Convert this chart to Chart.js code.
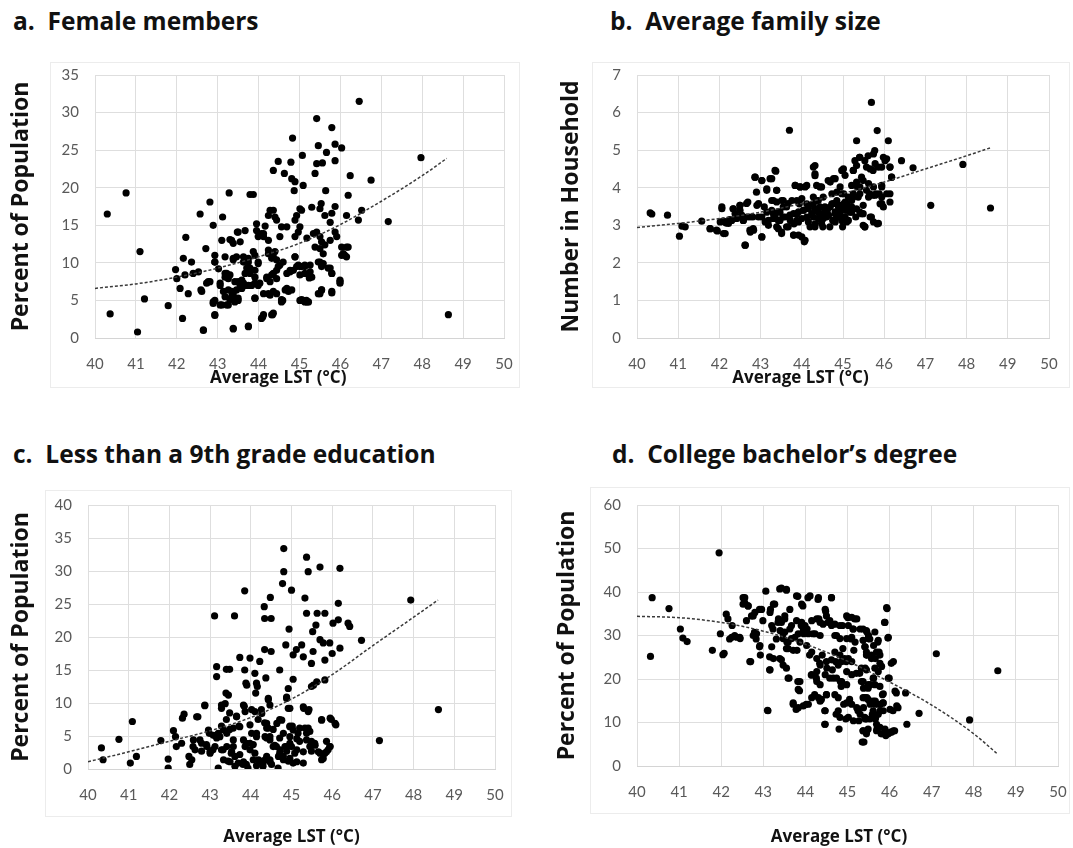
<!DOCTYPE html>
<html>
<head>
<meta charset="utf-8">
<script src="https://cdn.jsdelivr.net/npm/chart.js@4.4.1/dist/chart.umd.min.js"></script>
<style>
  body { margin: 0; background: #fff; }
  #page { position: relative; width: 1073px; height: 848px; overflow: hidden; }
  .ptitle { position: absolute; font-family: "Open Sans", sans-serif; font-weight: bold; font-size: 24.5px; color: #111; white-space: pre; line-height: 1; }
  .frame { position: absolute; border: 1px solid #ececec; }
  canvas { position: absolute; }
</style>
</head>
<body>
<div id="page">
  <div class="frame" style="left:50px;top:62px;width:468px;height:324px"></div>
  <div class="frame" style="left:592px;top:62px;width:476px;height:324px"></div>
  <div class="frame" style="left:45px;top:490px;width:465px;height:325px"></div>
  <div class="frame" style="left:590px;top:487px;width:478px;height:325px"></div>

  <div class="ptitle" style="left:13px;top:9px">a.  Female members</div>
  <div class="ptitle" style="left:610px;top:9px">b.  Average family size</div>
  <div class="ptitle" style="left:13px;top:442px">c.  Less than a 9th grade education</div>
  <div class="ptitle" style="left:612px;top:442px">d.  College bachelor’s degree</div>

  <canvas id="chartA" width="540" height="350" style="left:0;top:50px"></canvas>
  <canvas id="chartB" width="523" height="350" style="left:550px;top:50px"></canvas>
  <canvas id="chartC" width="540" height="368" style="left:0;top:480px"></canvas>
  <canvas id="chartD" width="523" height="368" style="left:550px;top:480px"></canvas>
</div>
<script>
// a. female members (% of population) vs average LST
const femaleLst = [40.30,40.76,40.37,41.04,41.10,41.21,41.79,41.97,42.14,42.22,42.16,42.36,42.08,42.28,42.00,42.20,42.40,42.53,42.57,42.81,
  42.71,42.65,42.89,43.12,43.28,42.93,42.59,42.77,42.93,42.89,43.10,43.26,43.02,43.22,43.30,43.48,43.55,43.38,43.38,43.75,
  43.79,43.87,44.83,45.42,45.79,45.46,45.87,46.03,45.66,45.07,45.87,44.48,44.79,45.42,45.56,44.36,44.63,45.38,46.24,44.81,
  44.89,45.09,44.87,45.64,46.19,44.28,44.36,44.40,44.44,44.24,45.01,44.93,44.89,45.05,45.30,45.53,45.50,45.62,45.79,45.87,
  45.75,46.15,46.44,46.52,43.95,43.95,44.16,43.99,44.08,44.12,44.24,44.52,44.56,44.69,44.89,45.01,44.97,45.18,45.34,45.42,
  45.50,45.54,45.62,45.75,45.87,45.91,46.03,46.07,46.19,43.50,43.10,43.34,42.93,43.18,43.63,43.75,43.87,43.99,44.24,44.36,
  44.44,44.48,44.89,45.01,45.13,45.26,45.30,45.38,45.50,45.46,45.54,45.58,45.75,45.79,45.99,46.03,43.18,43.26,43.42,43.59,
  43.71,43.79,43.91,44.03,44.20,44.28,44.36,44.44,44.69,44.77,44.93,43.06,43.34,43.55,43.67,43.83,43.99,44.24,44.44,44.65,
  44.81,43.18,43.30,43.42,43.50,43.91,44.56,45.05,45.13,45.22,45.50,45.54,45.79,44.12,44.36,46.46,46.75,47.97,47.17,48.64,
  46.11,45.09,45.17,44.59,44.34,44.10,45.24,
  42.93,42.73,42.81,42.61,42.93,42.89,42.93,42.65,43.06,43.18,43.30,43.14,43.26,43.38,43.06,43.22,43.34,43.42,43.50,43.46,
  43.59,43.50,43.63,43.75,43.91,43.38,43.46,43.63,43.75,43.79,43.91,43.67,43.91,43.99,43.91,43.75,43.38,44.07,44.32,44.12,
  44.28,44.36,44.20,44.32,44.44,44.24,44.32,44.40,44.52,44.60,44.56,44.69,44.73,44.77,44.85,44.89,44.97,45.05,45.13,45.01,
  45.13,45.26,45.01,45.18,45.26,45.50,45.58,45.46,45.54,45.70,45.79,45.79,45.99,45.99,46.07,46.15,46.15,44.07,44.12,43.38,
  43.67];
const femalePct = [16.5,19.3,3.2,0.8,11.5,5.2,4.3,9.1,2.6,13.4,10.6,10.1,6.6,5.9,7.9,8.4,8.6,8.8,16.5,18.1,
  11.9,1.0,15.0,16.1,19.3,10.1,6.4,7.5,3.1,4.8,4.4,4.4,9.2,8.6,13.1,14.1,12.8,10.4,1.2,1.6,
  19.1,19.1,26.6,29.2,28.0,25.6,25.8,25.3,24.7,24.3,23.6,23.5,23.4,23.2,23.3,22.3,21.9,21.9,21.6,21.2,
  20.8,20.3,19.6,19.6,19.0,17.0,17.0,16.1,15.7,16.3,17.2,16.3,15.7,17.0,17.4,17.9,17.2,16.3,16.6,17.5,
  15.4,16.3,15.7,17.0,15.2,14.3,14.9,13.5,13.7,13.9,13.0,13.5,14.8,14.8,13.5,14.8,14.1,13.3,13.9,14.1,
  13.5,12.8,12.4,13.0,14.1,13.5,12.1,11.2,12.1,14.1,13.0,13.0,11.0,10.8,10.8,10.1,11.5,9.9,11.7,10.8,
  10.4,9.5,10.8,9.5,9.5,8.8,8.1,12.1,11.9,10.1,9.5,11.2,9.3,8.6,7.5,11.0,8.6,7.9,7.5,7.7,
  9.3,8.6,8.1,7.3,7.9,7.5,8.6,9.0,8.6,9.0,9.5,7.0,6.2,7.0,7.0,7.0,7.0,5.9,5.9,6.4,
  6.4,5.5,5.1,4.8,5.3,5.3,5.1,5.1,4.8,4.8,5.9,6.4,6.0,3.1,3.3,31.5,21.0,24.0,15.5,3.1,
  11.0,5.0,5.0,5.0,3.1,2.8,8.0,
  10.1,7.3,7.5,6.2,5.0,4.6,3.0,1.1,7.3,8.1,8.4,6.2,6.4,5.9,4.4,4.4,5.5,5.3,5.0,6.4,
  6.6,7.5,7.3,7.0,7.3,10.6,10.8,10.1,10.6,9.3,9.0,8.6,11.0,10.1,5.3,1.5,1.3,2.6,3.1,5.9,
  5.7,6.2,8.1,8.4,7.9,11.2,10.6,11.5,9.7,10.1,4.8,6.6,6.2,8.8,9.0,10.8,9.7,9.5,9.7,8.4,
  8.6,8.1,5.0,4.8,9.7,10.1,9.9,5.9,6.4,9.3,8.6,6.2,7.7,7.3,11.2,10.8,12.1,13.9,13.5,12.6,
  14.3];
const femaleTrendLst = [40, 41, 42, 43, 44, 45, 46, 47, 48, 48.6];
const femaleTrend = [6.6, 7.2, 8.1, 9.3, 10.8, 12.6, 15.1, 18.2, 21.6, 23.9];

// b. average family size (number in household)
const familyLst = [40.32,40.36,40.74,41.03,41.09,41.17,41.78,41.95,42.06,42.10,42.10,42.16,42.22,42.25,42.33,42.38,42.46,42.50,42.50,42.58,
  42.63,42.67,42.69,42.75,42.81,42.83,42.87,42.91,42.95,43.03,43.03,43.09,43.15,43.15,43.19,43.27,43.31,43.31,43.35,43.35,
  43.39,43.39,43.43,43.47,43.51,43.54,43.55,43.63,43.63,43.70,43.72,43.76,43.80,43.81,43.84,43.88,43.92,43.94,43.96,44.00,
  44.04,44.06,44.08,44.12,44.12,44.16,44.20,44.24,44.28,44.28,44.32,44.32,44.36,44.40,44.43,44.44,44.48,44.51,44.52,44.56,
  44.60,44.62,44.64,44.68,44.73,44.75,44.77,44.81,44.85,44.86,44.89,44.93,44.93,44.97,44.99,45.01,45.02,45.02,45.05,45.07,
  45.09,45.13,45.13,45.15,45.17,45.21,45.21,45.25,45.25,45.29,45.31,45.33,45.35,45.37,45.40,45.41,45.41,45.45,45.45,45.49,
  45.53,45.57,45.57,45.61,45.65,45.69,45.69,45.73,45.73,45.77,45.80,45.83,45.83,45.86,45.88,45.90,45.94,45.98,45.98,46.02,
  46.06,46.10,46.14,46.18,46.42,46.70,47.13,47.91,48.58,
  41.57,41.77,41.93,42.02,42.14,42.06,42.18,42.30,42.42,42.34,42.50,42.66,42.54,42.58,42.74,42.74,42.82,42.62,42.86,43.03,
  43.23,43.37,42.90,43.15,43.39,42.95,43.03,43.11,43.19,43.03,43.27,43.39,43.51,43.27,43.43,43.55,43.67,43.31,43.47,43.59,
  43.71,43.43,43.51,43.67,43.80,43.92,44.08,43.84,43.96,44.12,43.88,44.00,43.80,43.92,44.04,44.16,43.88,44.00,44.16,44.32,
  44.32,44.36,44.48,44.28,44.40,44.52,44.32,44.44,44.56,44.69,44.28,44.40,44.52,44.65,44.32,44.48,44.69,44.81,44.73,44.85,
  44.97,44.77,44.93,45.05,44.81,44.93,45.09,44.81,44.97,45.09,45.01,45.05,45.25,45.33,45.41,45.53,45.21,45.33,45.49,45.25,
  45.41,45.21,45.33,45.49,45.49,45.66,45.53,45.74,45.86,45.66,45.78,45.94,46.06,45.62,45.74,45.94,45.62,45.78,45.94,46.14,
  45.94,46.14,46.14,46.18,45.74];
const familySize = [3.33,3.30,3.27,2.71,2.98,2.96,2.91,2.85,3.49,3.11,2.78,3.06,3.05,3.15,3.44,3.31,3.22,3.53,3.40,3.13,
  2.47,3.22,3.62,2.82,3.22,2.87,4.28,3.53,3.22,2.69,4.19,3.49,3.93,3.35,3.13,4.24,3.66,3.31,4.46,3.22,
  3.93,2.96,3.13,3.35,2.78,3.22,3.66,3.49,2.96,5.53,3.13,3.66,2.74,3.04,4.06,3.31,3.09,3.57,4.02,2.69,
  3.40,2.56,4.02,3.22,3.57,3.49,2.96,3.31,4.55,3.57,4.32,3.04,3.66,3.35,3.22,4.02,3.13,2.96,3.31,3.49,
  3.22,3.40,4.19,2.96,3.57,3.13,4.24,3.31,3.66,3.22,3.49,4.02,3.40,4.46,2.96,3.44,3.84,3.57,3.22,3.40,
  3.57,3.13,3.75,3.49,3.35,3.66,3.35,4.46,3.84,4.72,3.22,5.25,4.02,3.75,4.81,3.35,4.02,4.28,3.31,3.00,
  2.96,4.55,3.93,4.85,3.84,6.27,3.22,4.46,3.80,4.99,3.84,5.52,3.04,4.55,3.84,3.57,4.02,4.81,3.49,4.72,
  3.84,5.25,4.55,4.28,4.72,4.53,3.53,4.62,3.46,
  3.11,2.91,2.87,3.09,2.78,3.44,3.09,3.13,3.18,3.44,3.53,3.58,3.27,3.13,3.22,2.87,2.91,2.47,4.28,4.19,
  4.24,4.44,3.88,3.97,3.93,3.58,3.22,3.09,3.00,2.69,3.66,3.62,3.66,3.40,3.36,3.49,3.58,3.18,3.13,3.22,
  3.27,2.91,2.82,2.96,2.74,2.74,2.60,4.06,4.02,4.06,3.66,3.71,3.31,3.36,3.40,3.44,3.13,3.18,3.09,4.59,
  4.37,4.06,4.02,3.75,3.66,3.75,3.44,3.49,3.40,3.49,3.22,3.18,3.18,3.27,2.96,3.05,4.15,4.24,3.84,3.88,
  3.84,3.58,3.53,3.62,3.36,3.31,3.40,3.09,3.13,3.09,4.50,4.33,4.46,4.59,4.81,4.72,4.06,4.15,4.19,3.75,
  3.84,3.49,3.44,3.53,3.31,3.22,2.96,3.09,3.05,4.50,4.64,4.55,4.77,4.11,4.02,4.06,3.75,3.80,3.75,3.84,
  3.58,3.62,4.55,4.28,4.90];
const familyTrendLst = [40, 41, 42, 43, 44, 45, 46, 47, 48, 48.6];
const familyTrend = [2.94, 3.05, 3.18, 3.35, 3.58, 3.85, 4.15, 4.5, 4.85, 5.07];

// c. less than a 9th grade education (% of population)
const eduLst = [40.33,40.37,40.76,41.09,41.04,41.19,41.79,41.97,41.97,42.10,42.15,42.17,42.30,42.32,42.36,42.48,42.50,42.58,42.70,42.75,
  42.79,42.87,42.91,42.98,43.00,43.11,43.16,43.16,43.20,43.24,43.28,43.28,43.32,43.39,43.40,43.48,43.48,43.44,43.52,43.60,
  43.65,43.57,43.71,43.73,43.73,43.81,43.84,43.85,43.85,43.88,43.89,43.93,43.98,44.02,44.06,44.10,44.12,44.16,44.14,44.22,
  44.26,44.30,44.33,44.34,44.34,44.34,44.37,44.39,44.43,44.47,44.47,44.48,44.50,44.50,44.55,44.67,44.71,44.71,44.71,44.78,
  44.81,44.81,45.00,44.86,44.88,44.88,44.92,44.94,44.96,45.02,45.04,45.04,45.08,45.12,45.16,45.25,45.29,45.30,45.33,45.37,
  45.37,45.41,45.41,45.43,45.45,45.49,45.49,45.49,45.52,45.53,45.60,45.63,45.70,45.70,45.74,45.74,45.78,45.82,45.82,45.82,
  45.86,45.90,45.94,45.98,46.00,46.02,46.09,46.15,46.19,46.19,46.15,46.39,46.43,46.72,47.16,47.93,48.61,43.07,43.16,43.57,
  43.61,43.69,43.89,44.06,44.14,44.22,44.30,44.39,44.51,44.63,44.71,44.80,44.88,44.96,45.04,45.20,45.29,45.49,45.57,45.70,
  45.82,45.94,44.96,45.20,45.37,43.40,43.48,43.98,44.18,44.39,44.55,44.80,
  42.87,42.67,42.59,42.63,42.55,42.79,42.92,43.00,42.96,43.08,43.20,43.33,43.12,43.28,43.41,43.53,43.41,43.57,43.73,43.33,
  43.49,43.61,43.28,43.37,43.45,43.82,43.86,43.65,43.86,43.98,43.82,44.02,44.14,43.98,44.10,43.82,44.19,44.35,44.47,44.10,
  44.27,44.43,44.47,44.39,44.43,44.35,44.47,44.59,44.72,44.84,44.64,44.76,44.68,44.80,44.96,45.04,44.92,44.96,45.13,45.00,
  45.13,44.96,45.13,45.29,45.41,45.33,45.45,45.37,45.49,45.29,45.58,45.66,45.74,45.95,46.07,45.95,45.86,45.78,44.92,44.88,
  44.14,43.90,45.54,45.62];
const eduPct = [3.2,1.4,4.5,7.2,0.9,1.9,4.3,1.5,0.15,5.8,4.9,3.4,3.9,7.7,8.3,1.9,0.7,3.4,7.9,4.4,
  2.7,9.6,3.7,5.4,2.4,23.2,15.5,14.0,0.15,4.9,9.2,6.5,2.9,11.5,15.1,15.1,6.0,1.2,2.4,23.2,
  8.0,4.4,6.5,2.2,16.9,0.7,9.5,15.0,27.0,13.0,3.9,0.15,16.8,9.0,3.7,14.5,11.5,12.5,5.4,16.3,
  9.0,0.9,24.6,22.8,18.1,7.0,13.8,6.2,10.5,4.9,1.4,26.0,22.8,17.8,3.4,0.15,15.0,7.5,4.7,28.1,
  33.4,29.9,27.1,18.8,10.7,3.4,1.2,21.2,9.2,6.5,13.6,17.3,2.4,18.1,5.4,18.8,17.0,9.2,25.9,32.1,
  23.6,29.9,6.2,9.0,3.4,2.7,16.0,12.5,20.8,17.8,21.8,23.6,30.6,19.6,7.5,1.4,19.1,23.6,16.5,13.5,
  4.2,2.9,19.1,7.5,17.5,22.1,6.7,25.1,30.4,18.3,22.6,22.1,21.6,19.5,4.3,25.6,9.0,2.9,4.7,3.4,
  0.4,0.9,0.7,1.4,0.5,1.2,0.4,1.9,0.7,3.4,2.4,1.9,2.7,3.9,0.9,4.2,0.9,4.2,3.9,2.4,
  2.4,3.4,6.5,6.2,5.4,7.5,8.5,6.7,7.5,4.7,6.0,5.4,
  9.7,7.9,4.4,2.9,1.4,3.9,3.4,2.6,5.9,5.1,5.4,5.9,3.4,2.9,3.4,2.6,5.4,6.2,6.4,1.4,
  1.1,1.9,9.7,9.9,11.2,9.7,8.7,7.9,3.4,3.9,4.4,5.4,4.9,2.9,2.4,1.1,1.4,1.4,1.1,8.7,
  8.4,10.7,9.7,6.9,6.2,4.9,4.4,3.6,2.9,3.4,6.9,7.4,1.9,1.4,6.4,5.9,9.2,4.9,4.6,3.4,
  2.9,1.6,1.1,9.4,8.7,6.2,5.7,4.4,3.9,2.6,3.6,2.6,7.4,7.7,6.9,3.4,2.6,1.6,12.2,10.9,
  13.0,12.7,12.7,13.2];
const eduTrendLst = [40, 41, 42, 43, 44, 45, 46, 47, 48, 48.6];
const eduTrend = [1.1, 2.6, 4.2, 5.8, 7.8, 10.6, 14.3, 18.7, 23.0, 25.6];

// d. college bachelor's degree (% of population)
const bachLst = [40.36,40.32,40.76,41.03,41.09,41.19,41.79,41.95,41.98,42.04,42.12,42.16,42.20,42.26,42.32,42.44,42.52,42.56,42.64,42.68,
  42.72,42.79,42.83,42.91,42.91,42.93,42.99,43.06,43.11,43.15,43.15,43.17,43.23,43.27,43.31,43.35,43.39,43.39,43.47,43.47,
  43.51,43.55,43.56,43.59,43.61,43.63,43.67,43.71,43.75,43.78,43.80,43.82,43.82,43.86,43.90,43.94,43.96,44.02,44.04,44.06,
  44.10,44.14,44.18,44.22,44.26,44.30,44.32,44.34,44.38,44.40,44.42,44.46,44.46,44.48,44.50,44.51,44.58,44.62,44.64,44.66,
  44.70,44.72,44.73,44.80,44.83,44.85,44.88,44.89,44.91,44.93,44.96,44.97,45.01,45.05,45.09,45.13,45.15,45.17,45.21,45.25,
  45.27,45.29,45.33,45.35,45.37,45.37,45.41,45.41,45.45,45.45,45.49,45.49,45.53,45.54,45.57,45.59,45.61,45.65,45.67,45.69,
  45.72,45.75,45.77,45.78,45.80,45.83,45.84,45.88,45.91,45.94,45.96,45.99,46.02,46.04,46.08,46.12,46.16,46.20,46.38,46.41,
  46.70,47.11,47.90,48.57,
  42.07,42.25,42.37,42.45,42.56,42.52,42.64,42.60,42.76,42.80,42.76,42.84,42.70,42.92,42.96,43.16,43.24,43.20,43.20,43.24,
  43.16,43.10,43.43,43.55,43.36,43.43,43.51,43.40,43.51,43.63,43.47,43.59,43.67,43.55,43.71,43.43,43.55,43.59,43.79,43.91,
  43.79,43.91,43.99,43.83,43.95,44.07,43.87,44.03,43.87,43.83,43.71,43.83,43.95,44.07,44.11,44.31,44.62,44.15,44.27,44.35,
  44.23,44.35,44.15,44.27,44.15,44.27,44.35,44.27,44.35,44.15,44.31,44.35,44.47,44.50,44.54,44.62,44.50,44.62,44.47,44.58,
  44.50,44.47,44.47,44.70,44.82,44.74,44.82,44.70,44.82,44.78,44.86,44.74,44.86,44.70,44.78,44.78,44.82,44.98,45.10,45.22,
  45.02,45.14,44.98,45.10,45.18,45.02,45.10,44.98,45.10,44.98,44.98,45.10,45.22,45.02,45.14,45.30,45.45,45.37,45.49,45.45,
  45.57,45.33,45.45,45.37,45.49,45.37,45.49,45.30,45.41,45.53,45.37,45.45,45.39,45.65,45.73,45.69,45.77,45.65,45.73,45.65,
  45.77,45.61,45.73,45.85,45.61,45.73,45.85,45.69,45.77,45.89,45.85,45.97,46.05,45.93,45.89,45.97,46.09,45.97,46.13,
  45.46,45.50,45.42,45.62,45.46,45.66,45.81,45.42,45.62,45.38,45.54,45.85,45.46,45.66,45.38,45.54,45.78,46.01,46.17,45.62,
  45.78,45.42,45.66,45.46,45.70,45.89,46.09];
const bachPct = [38.7,25.2,36.2,31.5,29.4,28.6,26.6,49.0,30.4,25.6,34.9,33.8,29.2,32.3,30.0,29.6,38.7,37.5,36.8,24.0,
  34.5,30.7,29.2,36.0,27.4,25.5,33.4,40.2,12.7,22.1,25.1,36.0,31.5,37.2,29.2,33.0,24.7,40.7,30.4,23.2,
  34.5,40.4,28.5,27.0,20.2,36.0,32.3,14.5,29.6,13.0,26.6,19.4,39.0,17.3,32.3,36.8,30.4,14.2,31.5,38.7,
  25.5,20.9,30.4,16.4,20.2,38.3,33.8,23.6,15.3,25.5,32.6,12.7,9.6,35.6,16.4,22.5,33.4,38.7,22.1,20.2,
  30.0,24.0,11.9,8.5,19.4,18.3,32.3,27.0,14.2,24.7,10.8,24.0,34.1,15.3,29.2,31.5,26.6,33.8,21.3,12.7,
  10.4,21.3,19.4,5.5,31.5,8.1,27.4,15.7,25.5,10.8,17.9,8.5,29.2,14.5,24.7,11.9,20.2,14.2,11.2,8.1,
  28.5,26.2,23.6,12.7,7.4,16.4,14.5,33.0,7.0,36.2,29.4,20.2,7.8,23.6,12.7,8.1,16.8,13.4,16.8,9.6,
  12.1,25.8,10.6,21.9,
  25.9,29.6,29.6,29.3,38.7,37.2,36.8,33.4,34.5,35.3,30.0,30.4,24.0,27.7,36.0,35.3,37.2,32.3,27.4,24.7,
  22.1,12.8,40.9,40.6,33.8,33.0,33.8,31.1,30.8,31.5,29.3,28.5,29.3,27.0,26.6,24.4,22.5,20.2,39.1,37.2,
  33.4,33.0,32.3,30.4,31.1,30.4,28.5,27.7,19.4,17.6,14.2,13.4,13.8,14.2,39.1,38.7,38.7,33.4,33.8,33.0,
  30.4,30.0,26.2,24.7,21.0,21.7,23.2,19.4,18.7,15.7,15.7,14.9,36.0,34.5,33.0,32.3,24.0,24.4,21.0,20.2,
  16.4,12.7,9.6,32.6,32.3,30.0,29.3,26.2,25.5,23.2,24.0,20.2,19.4,16.4,15.7,12.7,11.2,34.5,34.2,33.8,
  32.3,31.5,29.3,29.6,28.5,24.7,24.0,21.7,21.0,18.7,14.5,14.2,13.4,11.2,10.4,31.5,31.1,28.9,29.3,26.2,
  25.5,22.5,22.1,19.4,18.7,15.7,15.3,11.9,11.2,10.8,8.1,7.4,5.5,30.8,28.9,26.2,25.5,22.5,21.7,18.7,
  18.3,14.9,14.2,14.5,12.7,11.9,12.7,9.6,8.9,8.5,7.4,7.4,7.8,36.4,33.0,29.6,24.0,20.2,17.2,
  30.8,30.0,27.4,27.7,25.5,24.7,22.9,22.5,20.2,17.9,18.7,16.6,15.7,14.9,13.4,14.2,14.2,13.0,13.8,11.9,
  12.7,10.8,10.8,8.1,8.5,7.4,8.1];
const bachTrendLst = [40, 41, 42, 43, 44, 45, 46, 47, 48, 48.57];
const bachTrend = [34.4, 34.1, 33.0, 31.0, 28.0, 24.1, 19.3, 14.0, 7.4, 2.7];

const tickColor = '#595959';
const gridColor = '#dedede';

function pairs(xs, ys) {
    return xs.map((x, i) => ({ x: x, y: ys[i] }));
}

function makePanel(id, cfg) {
    const ctx = document.getElementById(id).getContext('2d');
    // en spaces after the x title nudge it left, as in the original figure
    const xTitle = 'Average LST (°C)' + '\u2002'.repeat(cfg.xTitleShift);
    return new Chart(ctx, {
        data: {
            datasets: [{
                type: 'line',
                data: pairs(cfg.trendX, cfg.trendY),
                borderColor: '#3a3a3a',
                borderWidth: 1.5,
                borderDash: [3, 2],
                pointRadius: 0,
                fill: false,
                cubicInterpolationMode: 'monotone'
            }, {
                type: 'scatter',
                data: pairs(cfg.xs, cfg.ys),
                backgroundColor: '#000',
                borderWidth: 0,
                pointRadius: 3.6
            }]
        },
        options: {
            responsive: false,
            animation: false,
            devicePixelRatio: 1,
            layout: { padding: cfg.padding },
            scales: {
                x: {
                    type: 'linear',
                    min: 40,
                    max: 50,
                    afterFit: function(scale) { scale.height = cfg.xHeight; },
                    ticks: { stepSize: 1, padding: 2, color: tickColor, font: { family: 'Lato', size: 15 } },
                    grid: { color: gridColor, drawTicks: true, tickLength: 15, tickColor: 'rgba(0,0,0,0)' },
                    border: { color: '#d4d4d4' },
                    title: {
                        display: true,
                        text: xTitle,
                        color: '#111',
                        font: { family: 'Open Sans', size: 17, weight: 'bold' },
                        padding: { top: 0, bottom: 0 }
                    }
                },
                y: {
                    min: 0,
                    max: cfg.yMax,
                    afterFit: function(scale) { scale.width = cfg.yWidth; },
                    ticks: { stepSize: cfg.yStep, padding: 16, color: tickColor, font: { family: 'Lato', size: 15 } },
                    grid: { color: gridColor, drawTicks: false },
                    border: { display: false },
                    title: {
                        display: true,
                        text: cfg.yTitle,
                        color: '#111',
                        font: { family: 'Open Sans', size: 23, weight: 'bold' },
                        padding: { top: cfg.yTitlePad, bottom: 0 }
                    }
                }
            },
            plugins: {
                legend: { display: false },
                tooltip: { enabled: false }
            }
        }
    });
}

makePanel('chartA', {
    xs: femaleLst, ys: femalePct, trendX: femaleTrendLst, trendY: femaleTrend,
    yMax: 35, yStep: 5, yTitle: 'Percent of Population',
    padding: { left: 0, right: 36, top: 24, bottom: 12 },
    yWidth: 95, yTitlePad: 8, xHeight: 50, xTitleShift: 5
});
makePanel('chartB', {
    xs: familyLst, ys: familySize, trendX: familyTrendLst, trendY: familyTrend,
    yMax: 7, yStep: 1, yTitle: 'Number in Household',
    padding: { left: 0, right: 24, top: 24, bottom: 12 },
    yWidth: 87, yTitlePad: 8, xHeight: 50, xTitleShift: 10
});
makePanel('chartC', {
    xs: eduLst, ys: eduPct, trendX: eduTrendLst, trendY: eduTrend,
    yMax: 40, yStep: 5, yTitle: 'Percent of Population',
    padding: { left: 0, right: 45, top: 25, bottom: 1 },
    yWidth: 88, yTitlePad: 8, xHeight: 78, xTitleShift: 0
});
makePanel('chartD', {
    xs: bachLst, ys: bachPct, trendX: bachTrendLst, trendY: bachTrend,
    yMax: 60, yStep: 10, yTitle: 'Percent of Population',
    padding: { left: 0, right: 15, top: 21, bottom: 1 },
    yWidth: 87, yTitlePad: 4, xHeight: 81, xTitleShift: 2
});
</script>
</body>
</html>
